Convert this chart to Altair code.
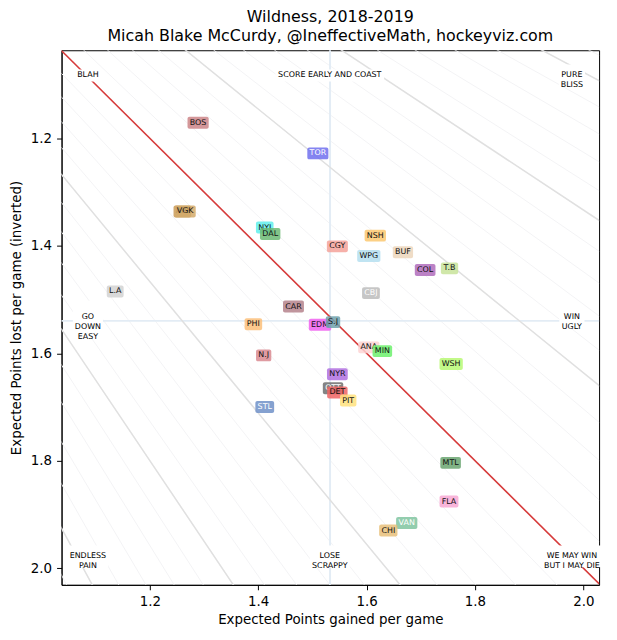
import altair as alt
import pandas as pd

# ---- data ----
teams = ["BOS", "TOR", "ARI", "VGK", "NYI", "DAL", "CGY", "NSH", "WPG", "BUF",
         "COL", "T.B", "L.A", "CBJ", "CAR", "PHI", "EDM", "S.J", "N.J", "ANA",
         "MIN", "WSH", "NYR", "OTT", "DET", "PIT", "STL", "MTL", "FLA", "VAN", "CHI"]
gained = [1.289, 1.510, 1.260, 1.265, 1.412, 1.422, 1.546, 1.616, 1.604, 1.667,
          1.708, 1.753, 1.136, 1.608, 1.465, 1.391, 1.514, 1.538, 1.410, 1.604,
          1.629, 1.756, 1.546, 1.538, 1.546, 1.566, 1.412, 1.755, 1.752, 1.674, 1.640]
lost = [1.171, 1.228, 1.336, 1.336, 1.366, 1.378, 1.401, 1.381, 1.419, 1.412,
        1.445, 1.442, 1.485, 1.488, 1.513, 1.546, 1.547, 1.542, 1.604, 1.589,
        1.596, 1.620, 1.639, 1.665, 1.673, 1.688, 1.700, 1.804, 1.876, 1.916, 1.930]
box_colors = ["#cc8588", "#7070ee", "#c89a5a", "#d4aa6a", "#5ff0ec", "#6cba74",
              "#f5a29a", "#fcc870", "#b5dff0", "#ecd6bc", "#b06cbc", "#c8e39a",
              "#d2d2d2", "#bcbcbc", "#b5838c", "#fbc07a", "#f060f0", "#6ea2ae",
              "#d98a90", "#fdd4d4", "#6cf06c", "#b8f874", "#b070e0", "#6e6e6e",
              "#f06464", "#ffe27e", "#7090c8", "#6aa470", "#f8a8d4", "#80c4a0", "#e8c07a"]
white_text = ["TOR", "CBJ", "OTT", "STL", "VAN"]

mean_gained = 1.5325
mean_lost = 1.5397

quad_labels = ["BLAH", "SCORE EARLY AND COAST", "PURE\nBLISS",
               "GO\nDOWN\nEASY", "", "WIN\nUGLY",
               "ENDLESS\nPAIN", "LOSE\nSCRAPPY", "WE MAY WIN\nBUT I MAY DIE"]
quad_x = [1.0856, 1.532, 1.9788]
quad_y = [1.083, 1.532, 1.978]

major_pcts = [0.35, 0.40, 0.45, 0.55, 0.60, 0.65]
minor_pcts = [i / 100 for i in range(30, 71)]
even_pct = 0.5

x_domain = [1.037, 2.029]
y_domain = [1.036, 2.031]
ticks = [1.2, 1.4, 1.6, 1.8, 2.0]

FONT = "DejaVu Sans"

# approximate DejaVu Sans glyph widths (em) for box sizing
CW = {"A": .684, "B": .686, "C": .698, "D": .770, "E": .632, "F": .575, "G": .775,
      "H": .752, "I": .295, "J": .295, "K": .656, "L": .557, "M": .863, "N": .748,
      "O": .787, "P": .603, "R": .695, "S": .635, "T": .611, "U": .732, "V": .684,
      "W": .989, "Y": .611, ".": .318, " ": .318}


def text_w(s, size):
    return max(sum(CW.get(c, .6) for c in line) for line in s.split("\n")) * size


teams_df = pd.DataFrame({"team": teams, "gained": gained, "lost": lost,
                         "box": box_colors,
                         "tc": ["white" if t in white_text else "#111111" for t in teams]})


def rule_df(pcts):
    rows = []
    for p in pcts:
        k = (1 - p) / p
        rows.append({"p": p, "x0": 0.9, "x1": 2.2, "y0": 0.9 * k, "y1": 2.2 * k})
    return pd.DataFrame(rows)


xs = alt.Scale(domain=x_domain, nice=False, zero=False)
ys = alt.Scale(domain=y_domain, nice=False, zero=False, reverse=True)
xax = alt.Axis(values=ticks, format=".1f", title="Expected Points gained per game")
yax = alt.Axis(values=ticks, format=".1f", title="Expected Points lost per game (inverted)")


def rules(df, color, width):
    return alt.Chart(df).mark_rule(color=color, strokeWidth=width, clip=True).encode(
        x=alt.X("x0:Q", scale=xs, axis=xax), y=alt.Y("y0:Q", scale=ys, axis=yax),
        x2="x1:Q", y2="y1:Q")


minor = rules(rule_df(minor_pcts), "#f3f3f5", 1)
major = rules(rule_df(major_pcts), "#e0e0e0", 1.5)
even = rules(rule_df([even_pct]), "#d63a3a", 1.6)

cross_v = alt.Chart(pd.DataFrame({"v": [mean_gained]})).mark_rule(
    color="#e3ecf5", strokeWidth=2).encode(x=alt.X("v:Q", scale=xs, axis=xax))
cross_h = alt.Chart(pd.DataFrame({"v": [mean_lost]})).mark_rule(
    color="#e3ecf5", strokeWidth=2).encode(y=alt.Y("v:Q", scale=ys, axis=yax))

quad_rows = []
for i, lab in enumerate(quad_labels):
    if lab:
        quad_rows.append({"lab": lab, "qx": quad_x[i % 3], "qy": quad_y[i // 3]})
quad_df = pd.DataFrame(quad_rows)

layers = [minor, cross_v, cross_h, major, even]
for r in quad_rows:
    nl = r["lab"].count("\n") + 1
    layers.append(alt.Chart(quad_df).transform_filter(alt.datum.lab == r["lab"]).mark_rect(
        color="white", width=text_w(r["lab"], 8) + 4, height=nl * 10 + 2).encode(
        x=alt.X("qx:Q", scale=xs, axis=xax), y=alt.Y("qy:Q", scale=ys, axis=yax)))
layers.append(alt.Chart(quad_df).mark_text(
    font=FONT, fontSize=8, lineBreak="\n", lineHeight=10, align="center",
    baseline="middle", color="black").encode(
    x=alt.X("qx:Q", scale=xs, axis=xax), y=alt.Y("qy:Q", scale=ys, axis=yax),
    text="lab:N"))

for t in teams:
    base = alt.Chart(teams_df).transform_filter(alt.datum.team == t)
    layers.append(base.mark_rect(width=text_w(t, 8) + 4.5, height=12, cornerRadius=2,
                                 opacity=0.85).encode(
        x=alt.X("gained:Q", scale=xs, axis=xax), y=alt.Y("lost:Q", scale=ys, axis=yax),
        color=alt.Color("box:N", scale=None)))
    layers.append(base.mark_text(font=FONT, fontSize=8, align="center",
                                 baseline="middle").encode(
        x=alt.X("gained:Q", scale=xs, axis=xax), y=alt.Y("lost:Q", scale=ys, axis=yax),
        text="team:N", color=alt.Color("tc:N", scale=None)))

chart = alt.layer(*layers).properties(
    width=542, height=539,
    autosize="none",
    padding={"left": 54, "top": 40, "right": 10, "bottom": 50},
    title=alt.TitleParams(
        text=["Wildness, 2018-2019",
              "Micah Blake McCurdy, @IneffectiveMath, hockeyviz.com"],
        font=FONT, fontSize=16, fontWeight="normal", color="black",
        anchor="middle", frame="group", offset=5, lineHeight=19),
).configure_view(stroke="black", strokeWidth=1).configure_axis(
    grid=False, domainColor="black", tickColor="black", tickSize=5,
    labelFont=FONT, titleFont=FONT, labelFontSize=13.5, titleFontSize=13.5,
    labelColor="black", titleColor="black", titleFontWeight="normal",
    labelPadding=5, domainWidth=1,
).configure_axisX(titlePadding=5).configure_axisY(titlePadding=7)

chart.save("out.html", embed_options={"renderer": "svg", "actions": False})
